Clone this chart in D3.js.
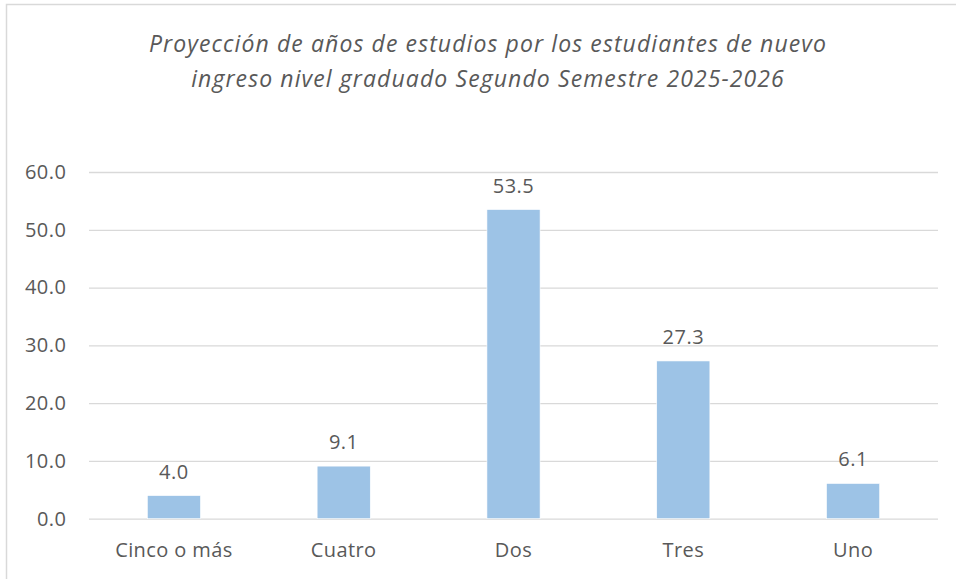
<!DOCTYPE html>
<html>
<head>
<meta charset="utf-8">
<script src="https://cdn.jsdelivr.net/npm/d3@7"></script>
<style>
  html, body { margin: 0; padding: 0; background: #fff; }
  svg { display: block; }
  text { font-family: "Open Sans", "Noto Sans", sans-serif; fill: #595959; }
</style>
</head>
<body>
<svg id="chart" width="956" height="579"></svg>
<script>
const categories = ["Cinco o más", "Cuatro", "Dos", "Tres", "Uno"];
const values = [4.0, 9.1, 53.5, 27.3, 6.1];
const yTicks = [0, 10, 20, 30, 40, 50, 60];
const titleLines = [
  "Proyección de años de estudios por los estudiantes de nuevo",
  "ingreso nivel graduado Segundo Semestre 2025-2026"
];

const svg = d3.select("#chart");
const plot = { left: 89, right: 938, top: 172, bottom: 518.7 };

// chart frame (cropped at right/bottom)
svg.append("rect")
  .attr("x", 6.5).attr("y", 4.5)
  .attr("width", 1000).attr("height", 1000)
  .attr("fill", "none")
  .attr("stroke", "#D9D9D9")
  .attr("stroke-width", 1.5);

const x = d3.scaleBand()
  .domain(categories)
  .range([plot.left, plot.right])
  .paddingInner(0.687)
  .paddingOuter(0.3435);

const y = d3.scaleLinear()
  .domain([0, 60])
  .range([plot.bottom, plot.top]);

// gridlines
const grid = svg.append("g")
  .attr("transform", `translate(${plot.left},0)`)
  .call(d3.axisLeft(y).tickValues(yTicks).tickSize(-(plot.right - plot.left)).tickFormat(""));
grid.select(".domain").remove();
grid.selectAll("line").attr("stroke", "#D9D9D9").attr("stroke-width", 1.3);

// y tick labels
const yAxis = svg.append("g")
  .attr("transform", `translate(66.5,0)`)
  .call(d3.axisLeft(y).tickValues(yTicks).tickSize(0).tickPadding(0).tickFormat(d3.format(".1f")));
yAxis.select(".domain").remove();
yAxis.selectAll("text")
  .attr("font-size", 20)
  .attr("letter-spacing", 0.5)
  .attr("fill", "#595959")
  .style("font-family", '"Open Sans", sans-serif');

// bars
svg.append("g").selectAll("rect")
  .data(values)
  .join("rect")
  .attr("x", (d, i) => x(categories[i]))
  .attr("width", x.bandwidth())
  .attr("y", d => y(d))
  .attr("height", d => y(0) - y(d))
  .attr("fill", "#9DC3E6")
  .attr("stroke", "#ffffff")
  .attr("stroke-width", 0.6);

// x axis labels
const xAxis = svg.append("g")
  .attr("transform", `translate(0,${plot.bottom})`)
  .call(d3.axisBottom(x).tickSize(0).tickPadding(0));
xAxis.select(".domain").remove();
xAxis.selectAll("text")
  .attr("y", 0)
  .attr("dy", "38.5")
  .attr("font-size", 20)
  .attr("letter-spacing", 0.4)
  .attr("fill", "#595959")
  .style("font-family", '"Open Sans", sans-serif');

// data labels
svg.append("g").selectAll("text")
  .data(values)
  .join("text")
  .attr("x", (d, i) => x(categories[i]) + x.bandwidth() / 2)
  .attr("y", d => y(d) - 17)
  .attr("text-anchor", "middle")
  .attr("font-size", 20)
  .attr("letter-spacing", 0.5)
  .text(d => d3.format(".1f")(d));

// title
svg.append("g").selectAll("text")
  .data(titleLines)
  .join("text")
  .attr("x", 488)
  .attr("y", (d, i) => 51.7 + i * 35)
  .attr("text-anchor", "middle")
  .attr("font-size", 23)
  .attr("letter-spacing", 1.1)
  .attr("font-style", "italic")
  .text(d => d);
</script>
</body>
</html>
